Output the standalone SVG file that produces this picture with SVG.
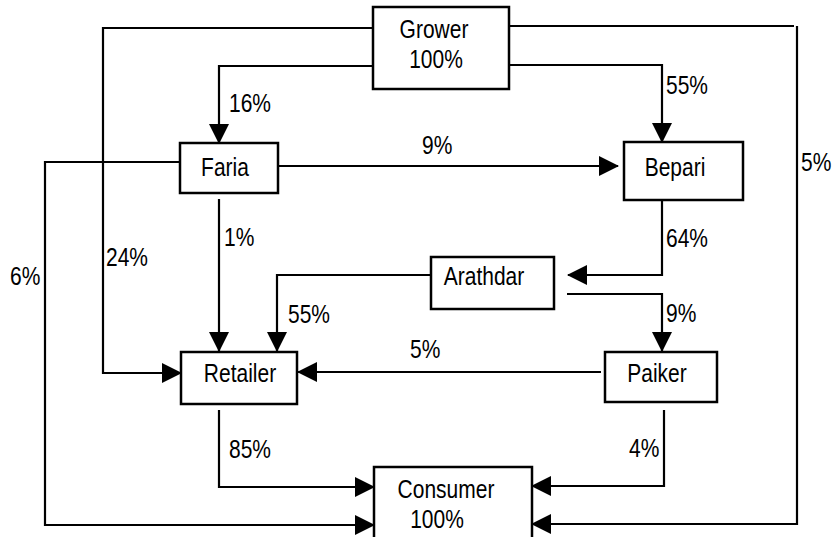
<svg xmlns="http://www.w3.org/2000/svg" width="834" height="537" viewBox="0 0 834 537">
<style>
.box{fill:#fff;stroke:#000;stroke-width:2.5}
.t{font-family:"Liberation Sans",Arial,sans-serif;font-size:25px;fill:#000}
.m{text-anchor:middle}
.c{fill:none;stroke:#000;stroke-width:2.2}
</style>
<defs>
<marker id="ah" markerUnits="userSpaceOnUse" markerWidth="20" markerHeight="22" refX="19" refY="10" orient="auto" viewBox="0 0 20 20">
<path d="M0,0 L20,10 L0,20 Z" fill="#000"/>
</marker>
</defs>
<rect width="834" height="537" fill="#fff"/>
<g id="connectors">
<path class="c" d="M373,28 H103 V373 H181" marker-end="url(#ah)"/>
<path class="c" d="M373,66 H219 V143" marker-end="url(#ah)"/>
<path class="c" d="M509,65 H662 V142" marker-end="url(#ah)"/>
<path class="c" d="M509,26 H794 M797,26 V524 H532" marker-end="url(#ah)"/>
<path class="c" d="M278,166 H618" marker-end="url(#ah)"/>
<path class="c" d="M180,162 H45 V525 H374" marker-end="url(#ah)"/>
<path class="c" d="M219,199 V351" marker-end="url(#ah)"/>
<path class="c" d="M662,200 V275 H568" marker-end="url(#ah)"/>
<path class="c" d="M431,275 H277 V351" marker-end="url(#ah)"/>
<path class="c" d="M567,294 H662 V351" marker-end="url(#ah)"/>
<path class="c" d="M601,372 H298" marker-end="url(#ah)"/>
<path class="c" d="M219,410 V487 H374" marker-end="url(#ah)"/>
<path class="c" d="M664,410 V486 H532" marker-end="url(#ah)"/>
<g class="t">
<text transform="translate(229,112) scale(0.84,1)">16%</text>
<text transform="translate(666,94) scale(0.84,1)">55%</text>
<text transform="translate(422,154) scale(0.84,1)">9%</text>
<text transform="translate(801,171) scale(0.84,1)">5%</text>
<text transform="translate(666,247) scale(0.84,1)">64%</text>
<text transform="translate(224,246) scale(0.84,1)">1%</text>
<text transform="translate(106,266) scale(0.84,1)">24%</text>
<text transform="translate(10,285) scale(0.84,1)">6%</text>
<text transform="translate(288,323) scale(0.84,1)">55%</text>
<text transform="translate(666,322) scale(0.84,1)">9%</text>
<text transform="translate(410,358) scale(0.84,1)">5%</text>
<text transform="translate(229,458) scale(0.84,1)">85%</text>
<text transform="translate(629,457) scale(0.84,1)">4%</text>
</g>
</g>
<g id="grower">
<rect class="box" x="373" y="7" width="136" height="82"/>
<text class="t m" transform="translate(434,38) scale(0.84,1)">Grower</text>
<text class="t m" transform="translate(436,68) scale(0.84,1)">100%</text>
</g>
<g id="faria">
<rect class="box" x="180" y="143" width="98" height="50"/>
<text class="t m" transform="translate(225,176) scale(0.84,1)">Faria</text>
</g>
<g id="bepari">
<rect class="box" x="624" y="142" width="119" height="58"/>
<text class="t m" transform="translate(675,176) scale(0.84,1)">Bepari</text>
</g>
<g id="arathdar">
<rect class="box" x="431" y="257" width="123" height="52"/>
<text class="t m" transform="translate(484,285) scale(0.84,1)">Arathdar</text>
</g>
<g id="retailer">
<rect class="box" x="181" y="352" width="116" height="52"/>
<text class="t m" transform="translate(240,382) scale(0.84,1)">Retailer</text>
</g>
<g id="paiker">
<rect class="box" x="605" y="352" width="112" height="50"/>
<text class="t m" transform="translate(657,382) scale(0.84,1)">Paiker</text>
</g>
<g id="consumer">
<rect class="box" x="374" y="467" width="158" height="80"/>
<text class="t m" transform="translate(446,498) scale(0.84,1)">Consumer</text>
<text class="t m" transform="translate(437,528) scale(0.84,1)">100%</text>
</g>
</svg>
